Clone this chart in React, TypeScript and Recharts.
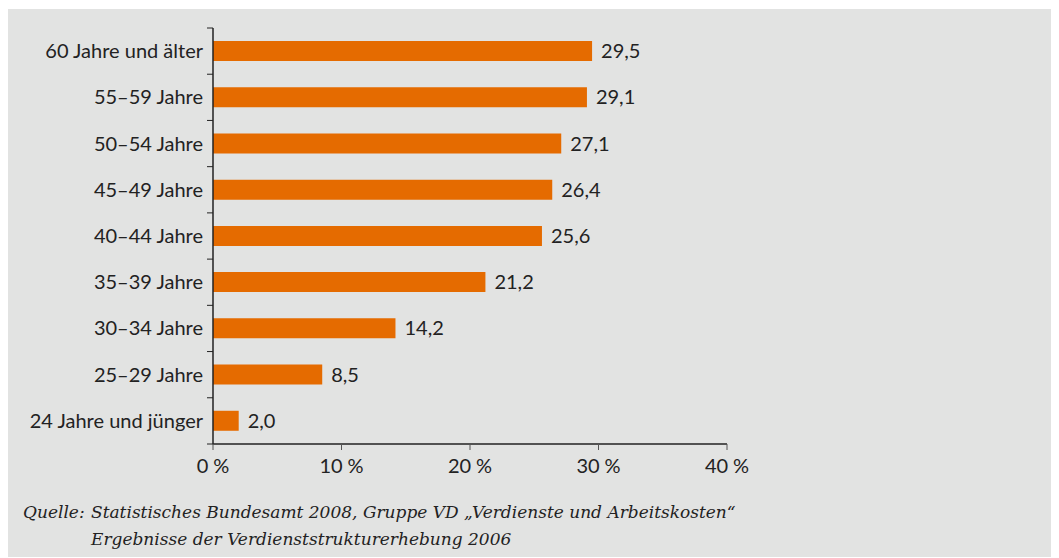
import { BarChart, Bar, XAxis, YAxis, LabelList } from 'recharts';

const categories = [
  '60 Jahre und älter',
  '55–59 Jahre',
  '50–54 Jahre',
  '45–49 Jahre',
  '40–44 Jahre',
  '35–39 Jahre',
  '30–34 Jahre',
  '25–29 Jahre',
  '24 Jahre und jünger',
];
const shares = [29.5, 29.1, 27.1, 26.4, 25.6, 21.2, 14.2, 8.5, 2.0];
const xTicks = [0, 10, 20, 30, 40];
const sourceLabel = 'Quelle:';
const sourceLines = [
  'Statistisches Bundesamt 2008, Gruppe VD „Verdienste und Arbeitskosten“',
  'Ergebnisse der Verdienststrukturerhebung 2006',
];

const data = categories.map((name, i) => ({ name, value: shares[i] }));

const W = 1051;
const H = 549;
const AXIS_W = 205;
const TOP = 19;
const PLOT_H = 416;
const BAND = PLOT_H / categories.length;
const FONT = 'Lato, sans-serif';
const FS = 20;
const INK = '#222';

const fmtComma = (v: any) => Number(v).toFixed(1).replace('.', ',');

// category label plus tick marks on the band boundaries
const CategoryTick = (props: any) => {
  const { y, payload, index } = props;
  const last = index === categories.length - 1;
  return (
    <g>
      <line x1={AXIS_W - 6} x2={AXIS_W} y1={y - BAND / 2} y2={y - BAND / 2} stroke={INK} />
      {last && <line x1={AXIS_W - 6} x2={AXIS_W} y1={y + BAND / 2} y2={y + BAND / 2} stroke={INK} />}
      <text x={AXIS_W - 10} y={y} dy="0.35em" textAnchor="end" fill={INK} fontSize={FS} fontFamily={FONT}>
        {payload.value}
      </text>
    </g>
  );
};

export default function App() {
  return (
    <div style={{ position: 'relative', top: 1, width: W, height: H, background: '#e2e3e2' }}>
      <BarChart
        width={W}
        height={H}
        data={data}
        layout="vertical"
        margin={{ top: TOP, right: 332, bottom: 84, left: 0 }}
      >
        <XAxis
          type="number"
          domain={[0, 40]}
          ticks={xTicks}
          interval={0}
          height={30}
          tickFormatter={(v: number) => `${v}\u202F%`}
          tick={{ fill: INK, fontSize: FS, fontFamily: FONT }}
          axisLine={{ stroke: INK, strokeWidth: 1.5 }}
          tickLine={{ stroke: '#555' }}
          tickSize={6}
          tickMargin={9}
        />
        <YAxis
          type="category"
          dataKey="name"
          width={AXIS_W}
          interval={0}
          axisLine={{ stroke: INK, strokeWidth: 1.5 }}
          tickLine={false}
          tick={<CategoryTick />}
        />
        <Bar dataKey="value" fill="#e56b00" barSize={20} isAnimationActive={false}>
          <LabelList
            dataKey="value"
            position="right"
            offset={9}
            formatter={fmtComma}
            fill={INK}
            fontSize={FS}
            fontFamily={FONT}
          />
        </Bar>
      </BarChart>
      {/* source note with hanging indent */}
      <div
        style={{
          position: 'absolute',
          left: 15,
          top: 490,
          display: 'flex',
          fontFamily: '"DejaVu Serif", serif',
          fontStyle: 'italic',
          fontSize: 17,
          lineHeight: '27px',
          color: INK,
          whiteSpace: 'nowrap',
        }}
      >
        <div style={{ width: 68 }}>{sourceLabel}</div>
        <div>
          <div>{sourceLines[0]}</div>
          <div>{sourceLines[1]}</div>
        </div>
      </div>
    </div>
  );
}
